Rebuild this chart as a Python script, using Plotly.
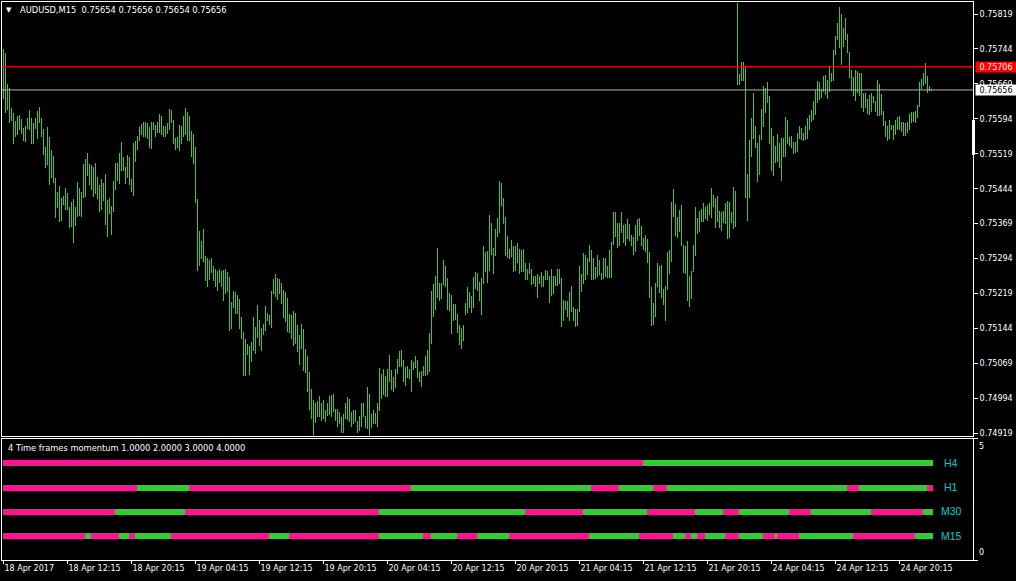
import plotly.graph_objects as go

# ---------------- data ----------------
# AUDUSD M15 bar highs / lows, in points (1 point = 0.00001)
high_pts = [
    75744, 75735, 75669, 75660, 75617, 75607, 75589, 75600, 75602, 75594,
    75574, 75579, 75596, 75613, 75596, 75585, 75596, 75611, 75619, 75596,
    75572, 75534, 75577, 75555, 75527, 75514, 75467, 75437, 75450, 75424,
    75428, 75446, 75435, 75405, 75416, 75422, 75405, 75458, 75446, 75437,
    75497, 75508, 75521, 75497, 75495, 75491, 75499, 75469, 75452, 75465,
    75456, 75476, 75420, 75424, 75407, 75461, 75499, 75499, 75521, 75544,
    75512, 75491, 75516, 75512, 75465, 75542, 75546, 75557, 75577, 75583,
    75587, 75587, 75585, 75577, 75587, 75587, 75581, 75587, 75604, 75600,
    75579, 75579, 75585, 75615, 75613, 75592, 75553, 75555, 75581, 75579,
    75600, 75617, 75609, 75600,
    75568, 75562, 75534, 75422, 75353, 75332,
    75358, 75300, 75295, 75291, 75295, 75278, 75272, 75267, 75272, 75267,
    75270, 75272, 75265, 75255, 75201, 75225, 75222, 75216, 75207, 75169,
    75137, 75122, 75111, 75107, 75114, 75169, 75148, 75194, 75163, 75144,
    75154, 75192, 75177, 75172, 75225, 75251, 75262, 75253, 75251, 75242,
    75227, 75223, 75209, 75176, 75174, 75182, 75178, 75152, 75129, 75154,
    75142, 75099, 75084, 75051, 75015, 74991, 74985, 74989, 75000, 74983,
    74991, 74968, 74985, 75000, 75002, 75004, 74972, 74972, 74965, 74953,
    74961, 74983, 74996, 74993, 74965, 74970, 74970, 74946, 74957, 74985,
    74985, 74957, 75019, 75004, 74961, 74968, 74963, 74985,
    75059, 75046,
    75057, 75042, 75057, 75087, 75055, 75040, 75057, 75079, 75096, 75098,
    75076, 75061, 75064, 75057, 75076, 75072, 75085, 75076, 75051, 75053,
    75064, 75085, 75098, 75134, 75225, 75240, 75257, 75317, 75242, 75242,
    75291, 75278, 75252, 75220, 75216, 75197, 75197, 75176, 75152, 75146,
    75152, 75199, 75233, 75222, 75214, 75255, 75265, 75263, 75244, 75252,
    75321, 75308, 75310, 75388, 75370, 75317, 75358, 75381, 75461, 75456,
    75424, 75383, 75343, 75315, 75334, 75321, 75321, 75328, 75315, 75313,
    75315, 75285, 75272, 75285, 75272, 75257, 75257, 75261, 75257, 75265,
    75257, 75270, 75267, 75257, 75272, 75257, 75257, 75272, 75272, 75253,
    75205, 75204,
    75203, 75222, 75235, 75190, 75186, 75186, 75279, 75262,
    75307, 75302, 75296, 75324, 75313, 75296, 75275, 75302, 75292, 75264,
    75296, 75296, 75279, 75313, 75330, 75395, 75393, 75371, 75371, 75395,
    75367, 75369, 75378, 75369, 75345, 75341, 75367, 75378, 75382, 75365,
    75339, 75345, 75335, 75309, 75234, 75199, 75242, 75285, 75279, 75281,
    75229, 75236, 75309, 75313, 75416, 75444, 75412, 75384, 75399, 75410,
    75324, 75322, 75332, 75257, 75268, 75324, 75405, 75382, 75397, 75401,
    75414, 75405, 75408, 75414, 75446, 75431, 75425, 75429, 75397, 75395,
    75397, 75414, 75418, 75416, 75393, 75448, 75440, 75843, 75691, 75717,
    75717, 75708, 75476, 75549, 75596, 75650,
    75579, 75542, 75559, 75615,
    75664, 75660, 75673, 75643, 75574, 75557, 75536, 75561, 75542, 75553,
    75553, 75598, 75591, 75555, 75557, 75544, 75544, 75564, 75579, 75574,
    75564, 75579, 75596, 75602, 75613, 75632, 75656, 75675, 75673, 75658,
    75686, 75688, 75677, 75707, 75692, 75742, 75772, 75800, 75834, 75819,
    75789, 75810, 75776, 75737, 75699, 75684, 75699, 75697, 75692, 75692,
    75649, 75649, 75637, 75645, 75649, 75643, 75632, 75677, 75669, 75647,
    75611, 75589, 75579, 75591, 75581, 75581, 75591, 75598, 75600, 75587,
    75587, 75585, 75587, 75604, 75609, 75609, 75611, 75624, 75673, 75679,
    75692, 75714, 75686, 75664, 75656,
]

low_pts = [
    75637, 75607, 75612, 75586, 75590, 75541, 75556, 75560, 75571, 75562,
    75547, 75545, 75573, 75571, 75541, 75539, 75573, 75551, 75586, 75555,
    75517, 75489, 75494, 75453, 75468, 75457, 75382, 75402, 75373, 75375,
    75410, 75399, 75399, 75360, 75361, 75328, 75363, 75384, 75386, 75384,
    75423, 75427, 75472, 75451, 75442, 75427, 75433, 75421, 75393, 75399,
    75418, 75367, 75341, 75390, 75345, 75393, 75442, 75461, 75455, 75483,
    75481, 75455, 75468, 75451, 75436, 75429, 75502, 75528, 75547, 75559,
    75556, 75554, 75551, 75532, 75530, 75571, 75556, 75564, 75564, 75560,
    75556, 75556, 75562, 75571, 75584, 75539, 75528, 75532, 75524, 75541,
    75554, 75560, 75547, 75547,
    75511, 75496, 75414, 75268, 75279, 75294,
    75287, 75245, 75232, 75249, 75264, 75245, 75234, 75225, 75242, 75234,
    75204, 75217, 75223, 75139, 75142, 75187, 75176, 75176, 75142, 75122,
    75043, 75043, 75088, 75045, 75073, 75096, 75090, 75124, 75107, 75096,
    75129, 75139, 75159, 75152, 75146, 75217, 75212, 75206, 75217, 75197,
    75167, 75157, 75137, 75135, 75122, 75107, 75111, 75094, 75066, 75099,
    75053, 75049, 75008, 74970, 74950, 74913, 74942, 74955, 74955, 74946,
    74950, 74944, 74957, 74959, 74955, 74965, 74946, 74933, 74938, 74920,
    74920, 74950, 74948, 74944, 74933, 74940, 74944, 74920, 74925, 74933,
    74953, 74931, 74929, 74914, 74931, 74938, 74938, 74933,
    74966, 74993,
    75002, 74996, 74996, 75030, 75013, 75008, 75017, 75047, 75062, 75062,
    75030, 75021, 75038, 75036, 75008, 75054, 75060, 75038, 75030, 75019,
    75041, 75041, 75045, 75051, 75111, 75169, 75184, 75210, 75202, 75208,
    75238, 75232, 75184, 75182, 75133, 75161, 75163, 75135, 75109, 75101,
    75118, 75174, 75178, 75187, 75178, 75189, 75229, 75225, 75204, 75172,
    75240, 75265, 75242, 75268, 75302, 75262, 75300, 75341, 75350, 75406,
    75369, 75300, 75296, 75294, 75298, 75266, 75268, 75285, 75260, 75266,
    75266, 75249, 75247, 75262, 75238, 75240, 75234, 75210, 75240, 75232,
    75234, 75249, 75249, 75199, 75214, 75217, 75236, 75236, 75240, 75148,
    75161, 75184,
    75169, 75159, 75180, 75161, 75148, 75150, 75180, 75223,
    75240, 75249, 75259, 75287, 75249, 75247, 75251, 75255, 75259, 75249,
    75251, 75255, 75253, 75253, 75253, 75324, 75341, 75317, 75322, 75350,
    75328, 75322, 75335, 75332, 75320, 75302, 75309, 75332, 75343, 75322,
    75313, 75309, 75285, 75210, 75150, 75152, 75169, 75232, 75221, 75210,
    75195, 75159, 75227, 75262, 75287, 75384, 75343, 75339, 75352, 75320,
    75264, 75262, 75202, 75191, 75208, 75266, 75300, 75347, 75352, 75373,
    75373, 75380, 75375, 75388, 75382, 75405, 75360, 75373, 75360, 75354,
    75371, 75369, 75337, 75339, 75371, 75358, 75362, 75667, 75667, 75676,
    75676, 75425, 75375, 75425, 75511, 75551,
    75532, 75459, 75474, 75549,
    75577, 75607, 75627, 75539, 75481, 75472, 75500, 75502, 75489, 75461,
    75513, 75513, 75539, 75536, 75532, 75519, 75521, 75523, 75551, 75549,
    75547, 75549, 75551, 75570, 75588, 75592, 75603, 75627, 75635, 75639,
    75652, 75646, 75637, 75652, 75674, 75676, 75732, 75764, 75745, 75710,
    75749, 75763, 75736, 75682, 75654, 75642, 75633, 75649, 75644, 75618,
    75609, 75618, 75605, 75603, 75609, 75629, 75609, 75601, 75601, 75603,
    75579, 75556, 75547, 75551, 75571, 75549, 75560, 75571, 75571, 75566,
    75558, 75558, 75564, 75569, 75586, 75588, 75586, 75596, 75619, 75659,
    75665, 75669, 75650, 75654, 75654,
]

POINT = 0.00001

# x-axis (bar index) tick labels, one every 32 M15 bars
time_labels = [
    "18 Apr 2017", "18 Apr 12:15", "18 Apr 20:15", "19 Apr 04:15",
    "19 Apr 12:15", "19 Apr 20:15", "20 Apr 04:15", "20 Apr 12:15",
    "20 Apr 20:15", "21 Apr 04:15", "21 Apr 12:15", "21 Apr 20:15",
    "24 Apr 04:15", "24 Apr 12:15", "24 Apr 20:15",
]
label_step = 32

price_ticks = [0.75819, 0.75744, 0.75669, 0.75594, 0.75519, 0.75444, 0.75369,
               0.75294, 0.75219, 0.75144, 0.75069, 0.74994, 0.74919]

symbol = "AUDUSD,M15"
last_ohlc = [0.75654, 0.75656, 0.75654, 0.75656]
bid_price = 0.75656
alert_price = 0.75706

# momentum indicator: per timeframe, runs of (state, bar count); 1 = up, 0 = down
tf_names = ["H4", "H1", "M30", "M15"]
tf_levels = [4, 3, 2, 1]
tf_runs = {
    "H4": [(0, 320), (1, 145)],
    "H1": [(0, 67), (1, 26), (0, 111), (1, 90), (0, 14), (1, 17), (0, 7),
           (1, 90), (0, 6), (1, 34), (0, 3)],
    "M30": [(0, 56), (1, 35), (0, 97), (1, 73), (0, 29), (1, 32), (0, 24),
            (1, 14), (0, 8), (1, 25), (0, 11), (1, 30), (0, 26), (1, 5)],
    "M15": [(0, 41), (1, 3), (0, 14), (1, 5), (0, 3), (1, 18), (0, 49), (1, 10),
            (0, 45), (1, 22), (0, 4), (1, 13), (0, 10), (1, 16), (0, 40), (1, 25),
            (0, 17), (1, 6), (0, 3), (1, 3), (0, 4), (1, 10), (0, 7), (1, 12),
            (0, 6), (1, 1), (0, 11), (1, 27), (0, 31), (1, 9)],
}

# ---------------- styling ----------------
W, H = 1016, 581
BAR_GREEN = "#32CD32"
DOWN_PINK = "#FF1493"
UP_GREEN = "#32CD32"
LABEL_CYAN = "#00CED1"
FONT = "DejaVu Sans"

n = len(high_pts)
idx = list(range(n))
highs = [h * POINT for h in high_pts]
lows = [l * POINT for l in low_pts]

fig = go.Figure()

# price bars (high-low)
fig.add_trace(go.Bar(
    x=idx, y=[h - l for h, l in zip(highs, lows)], base=lows,
    width=0.45, marker=dict(color=BAR_GREEN, line=dict(width=0)),
    xaxis="x", yaxis="y", hoverinfo="skip",
))

# momentum rows
for name, level in zip(tf_names, tf_levels):
    colors = []
    for state, count in tf_runs[name]:
        colors += [UP_GREEN if state else DOWN_PINK] * count
    colors = colors[:n]
    fig.add_trace(go.Bar(
        x=idx[:len(colors)], y=[0.25] * len(colors),
        base=[level - 0.125] * len(colors),
        width=1.0, marker=dict(color=colors, line=dict(width=0)),
        xaxis="x2", yaxis="y2", hoverinfo="skip",
    ))

x_dom = [2 / W, 973 / W]
main_dom = [1 - 435.5 / H, 1 - 2 / H]
ind_dom = [1 - 560 / H, 1 - 438.5 / H]
xr = [-0.75, -0.75 + 971 / 2]


def price_at_px(px):
    return 0.75819 - (px - 14) * 0.009 / 419.3


tickfont = dict(family=FONT, size=8, color="white")

fig.update_layout(
    width=W, height=H,
    margin=dict(l=0, r=0, t=0, b=0, autoexpand=False),
    paper_bgcolor="black", plot_bgcolor="black",
    showlegend=False, barmode="overlay", bargap=0, hovermode=False,
    xaxis=dict(domain=x_dom, range=xr, anchor="y", showticklabels=False,
               ticks="", showgrid=False, zeroline=False, showline=True,
               linecolor="white", linewidth=1, mirror=True, automargin=False),
    yaxis=dict(domain=main_dom, range=[price_at_px(435.5), price_at_px(2)],
               anchor="x", side="right", tickvals=price_ticks,
               ticktext=[f"{p:.5f}" for p in price_ticks],
               ticks="outside", ticklen=4, tickcolor="white", tickfont=tickfont,
               showgrid=False, zeroline=False, showline=True, automargin=False,
               linecolor="white", linewidth=1, mirror=True),
    xaxis2=dict(domain=x_dom, range=xr, anchor="y2", matches="x",
                tickvals=[k * label_step for k in range(len(time_labels))],
                ticktext=time_labels, ticks="outside", ticklen=3,
                tickcolor="white", tickfont=tickfont,
                ticklabelposition="outside right", automargin=False,
                showgrid=False, zeroline=False, showline=True,
                linecolor="white", linewidth=1, mirror=True),
    yaxis2=dict(domain=ind_dom, range=[0, 5], anchor="x2", side="right",
                tickvals=[0, 5], showticklabels=False, ticks="outside",
                ticklen=4, tickcolor="white", showgrid=False, zeroline=False,
                showline=True, linecolor="white", linewidth=1, mirror=True,
                automargin=False),
)

# horizontal price lines
fig.add_shape(type="line", xref="x domain", yref="y", x0=0, x1=1,
              y0=alert_price, y1=alert_price, line=dict(color="#FF0000", width=1))
fig.add_shape(type="line", xref="x domain", yref="y", x0=0, x1=1,
              y0=bid_price, y1=bid_price, line=dict(color="#B4B4B4", width=1))

# small white marker on price scale
fig.add_shape(type="rect", xref="paper", yref="paper",
              x0=972 / W, x1=975 / W, y0=1 - 155 / H, y1=1 - 120 / H,
              fillcolor="white", line=dict(width=0))

ann = []
title_text = symbol + "\u00a0\u00a0" + " ".join(f"{v:.5f}" for v in last_ohlc)
ann.append(dict(text="▼", x=9 / W, y=1 - 10 / H, xref="paper", yref="paper",
                xanchor="center", yanchor="middle", showarrow=False,
                font=dict(family=FONT, size=7, color="white")))
ann.append(dict(text=title_text, x=18 / W, y=1 - 10 / H, xref="paper", yref="paper",
                xanchor="left", yanchor="middle", showarrow=False,
                font=dict(family=FONT, size=8.3, color="white")))
ind_text = "4 Time frames momentum " + " ".join(f"{v:.4f}" for v in sorted(tf_levels))
ann.append(dict(text=ind_text, x=6 / W, y=1 - 448 / H, xref="paper", yref="paper",
                xanchor="left", yanchor="middle", showarrow=False,
                font=dict(family=FONT, size=8.3, color="white")))
for name, level in zip(tf_names, tf_levels):
    ann.append(dict(text=name, x=951 / W, y=level, xref="paper", yref="y2",
                    xanchor="center", yanchor="middle", showarrow=False,
                    font=dict(family="Liberation Sans", size=10.5, color=LABEL_CYAN)))
# indicator scale labels
ann.append(dict(text="5", x=977 / W, y=5, xref="paper", yref="y2", xanchor="left",
                yanchor="top", showarrow=False, yshift=-1,
                font=dict(family=FONT, size=8, color="white")))
ann.append(dict(text="0", x=977 / W, y=0, xref="paper", yref="y2", xanchor="left",
                yanchor="bottom", showarrow=False, yshift=1,
                font=dict(family=FONT, size=8, color="white")))
# price labels on scale
ann.append(dict(text=f"{alert_price:.5f}", x=975 / W, y=alert_price, xref="paper",
                yref="y", xanchor="left", yanchor="middle", showarrow=False,
                bgcolor="#FF0000", borderpad=0, width=40, height=10, align="center",
                font=dict(family=FONT, size=8, color="white")))
ann.append(dict(text=f"{bid_price:.5f}", x=975 / W, y=bid_price, xref="paper",
                yref="y", xanchor="left", yanchor="middle", showarrow=False,
                bgcolor="white", borderpad=0, width=40, height=10, align="center",
                font=dict(family=FONT, size=8, color="black")))
fig.update_layout(annotations=ann)

fig.write_html("out.html",
               config={"displayModeBar": False, "staticPlot": False},
               post_script="document.body.style.margin='0';"
                           "document.body.style.background='black';")
